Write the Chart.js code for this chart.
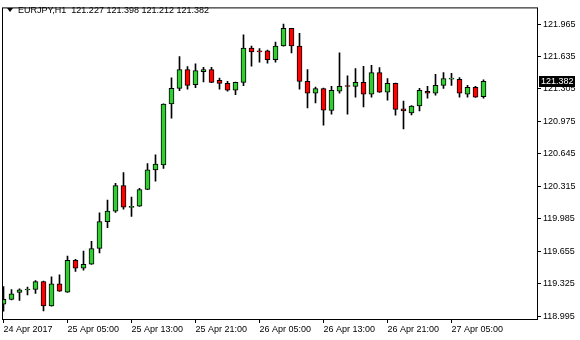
<!DOCTYPE html>
<html>
<head>
<meta charset="utf-8">
<script src="https://cdn.jsdelivr.net/npm/chart.js@4.4.0/dist/chart.umd.min.js"></script>
<style>
    html, body { margin: 0; padding: 0; background: #fff; }
    #wrap { position: relative; width: 580px; height: 340px; }
    #head { position: absolute; left: 7px; top: 4px; font: 9px "Liberation Sans", Arial, sans-serif; color: #000; white-space: pre; line-height: 12px; }
    #head .tri { display: inline-block; width: 0; height: 0; border-left: 3px solid transparent; border-right: 3px solid transparent; border-top: 4px solid #000; margin-right: 5px; vertical-align: 1px; }
</style>
</head>
<body>
<div id="wrap">
    <canvas id="chart" width="580" height="340"></canvas>
    <div id="head"><span class="tri"></span>EURJPY,H1  121.227 121.398 121.212 121.382</div>
</div>
<script>
// EURJPY H1, one candle per hour, first bar = 24 Apr 21:00
const opens  = [119.115, 119.165, 119.235, 119.260, 119.265, 119.345, 119.098, 119.322, 119.238, 119.562,
                119.482, 119.522, 119.682, 119.955, 120.062, 120.322, 120.100, 120.112, 120.282, 120.482,
                120.532, 121.152, 121.312, 121.502, 121.348, 121.482, 121.502, 121.392, 121.362, 121.292,
                121.372, 121.722, 121.690, 121.692, 121.602, 121.742, 121.922, 121.742, 121.382, 121.262,
                121.310, 121.088, 121.282, 121.335, 121.332, 121.372, 121.252, 121.472, 121.272, 121.362,
                121.102, 121.062, 121.132, 121.282, 121.262, 121.342, 121.405, 121.402, 121.252, 121.322,
                121.227];
const highs  = [119.295, 119.265, 119.272, 119.290, 119.355, 119.350, 119.395, 119.415, 119.605, 119.572,
                119.655, 119.755, 120.045, 120.175, 120.345, 120.455, 120.205, 120.295, 120.545, 120.635,
                121.155, 121.418, 121.635, 121.532, 121.562, 121.525, 121.525, 121.415, 121.382, 121.375,
                121.855, 121.742, 121.715, 121.702, 121.782, 121.965, 121.922, 121.872, 121.502, 121.325,
                121.315, 121.332, 121.672, 121.438, 121.512, 121.535, 121.545, 121.522, 121.412, 121.365,
                121.182, 121.135, 121.312, 121.332, 121.455, 121.472, 121.465, 121.422, 121.342, 121.332,
                121.398];
const lows   = [119.045, 119.160, 119.155, 119.210, 119.225, 119.048, 119.095, 119.245, 119.235, 119.448,
                119.462, 119.520, 119.638, 119.895, 120.048, 120.082, 120.008, 120.110, 120.280, 120.368,
                120.498, 121.008, 121.288, 121.302, 121.318, 121.378, 121.370, 121.302, 121.282, 121.248,
                121.338, 121.538, 121.578, 121.568, 121.578, 121.740, 121.672, 121.302, 121.112, 121.162,
                120.938, 121.048, 121.262, 121.048, 121.222, 121.122, 121.222, 121.270, 121.192, 121.038,
                120.898, 121.042, 121.082, 121.212, 121.242, 121.312, 121.342, 121.222, 121.222, 121.220,
                121.212];
const closes = [119.165, 119.222, 119.262, 119.270, 119.345, 119.098, 119.322, 119.248, 119.562, 119.482,
                119.522, 119.682, 119.955, 120.062, 120.322, 120.102, 120.110, 120.282, 120.482, 120.542,
                121.152, 121.312, 121.502, 121.342, 121.492, 121.502, 121.372, 121.362, 121.292, 121.372,
                121.722, 121.682, 121.682, 121.602, 121.742, 121.922, 121.742, 121.382, 121.262, 121.308,
                121.090, 121.292, 121.332, 121.330, 121.372, 121.252, 121.472, 121.272, 121.362, 121.098,
                121.082, 121.132, 121.292, 121.262, 121.342, 121.412, 121.410, 121.262, 121.322, 121.222,
                121.382];

const priceTicks = [118.995, 119.325, 119.655, 119.985, 120.315, 120.645, 120.975, 121.305, 121.635, 121.965];
const timeTickBars = [0, 8, 16, 24, 32, 40, 48, 56];
const timeLabels = ['24 Apr 2017', '25 Apr 05:00', '25 Apr 13:00', '25 Apr 21:00',
                    '26 Apr 05:00', '26 Apr 13:00', '26 Apr 21:00', '27 Apr 05:00'];

const bullColor = '#32cd32';
const bearColor = '#ff0000';
const tickFont = { family: '"Liberation Sans", Arial, sans-serif', size: 9 };

const wicks = opens.map((o, i) => ({ x: i, y: [lows[i], highs[i]] }));
const bodies = opens.map((o, i) => ({ x: i, y: [o, closes[i]] }));
const bodyColors = opens.map((o, i) => closes[i] >= o ? bullColor : bearColor);

// frame around the plot + last price box on the axis
const framePlugin = {
    id: 'frame',
    afterDraw(chart) {
        const { ctx, chartArea: a, scales } = chart;
        ctx.save();
        ctx.strokeStyle = '#000';
        ctx.lineWidth = 1;
        ctx.strokeRect(a.left + 0.5, a.top + 0.5, a.right - a.left, a.bottom - a.top);

        const last = closes[closes.length - 1];
        const y = Math.round(scales.y.getPixelForValue(last));
        ctx.fillStyle = '#000';
        ctx.fillRect(a.right + 2, y - 5, 36, 11);
        ctx.fillStyle = '#fff';
        ctx.font = '9px "Liberation Sans", Arial, sans-serif';
        ctx.textBaseline = 'middle';
        ctx.fillText(last.toFixed(3), a.right + 4, y + 0.5);
        ctx.restore();
    }
};

new Chart(document.getElementById('chart'), {
    type: 'bar',
    data: {
        datasets: [
            {
                data: bodies,
                backgroundColor: bodyColors,
                borderColor: '#000',
                borderWidth: 1,
                borderSkipped: false,
                barThickness: 5,
                minBarLength: 1,
                grouped: false,
                order: 1
            },
            {
                data: wicks,
                backgroundColor: '#000',
                borderWidth: 0,
                barThickness: 1,
                grouped: false,
                order: 2
            }
        ]
    },
    options: {
        responsive: false,
        animation: false,
        layout: { padding: { left: 2, top: 2, right: 0, bottom: 0 } },
        plugins: { legend: { display: false }, tooltip: { enabled: false } },
        scales: {
            x: {
                type: 'linear',
                position: 'bottom',
                offset: false,
                min: -0.1875,
                max: 66.6875,
                border: { display: false },
                grid: { offset: false, drawOnChartArea: false, drawTicks: true, tickLength: 4, color: '#000' },
                afterBuildTicks: s => { s.ticks = timeTickBars.map(v => ({ value: v })); },
                afterFit: s => { s.height = 21; },
                ticks: {
                    align: 'start',
                    autoSkip: false,
                    maxRotation: 0,
                    padding: 1,
                    color: '#000',
                    font: tickFont,
                    callback: v => timeLabels[timeTickBars.indexOf(v)]
                }
            },
            y: {
                type: 'linear',
                position: 'right',
                min: 118.965,
                max: 122.135,
                border: { display: false },
                grid: { drawOnChartArea: false, drawTicks: true, tickLength: 4, color: '#000' },
                afterBuildTicks: s => { s.ticks = priceTicks.map(v => ({ value: v })); },
                afterFit: s => { s.width = 43; },
                ticks: {
                    padding: 2,
                    color: '#000',
                    font: tickFont,
                    callback: v => v.toFixed(3)
                }
            }
        }
    },
    plugins: [framePlugin]
});
</script>
</body>
</html>
